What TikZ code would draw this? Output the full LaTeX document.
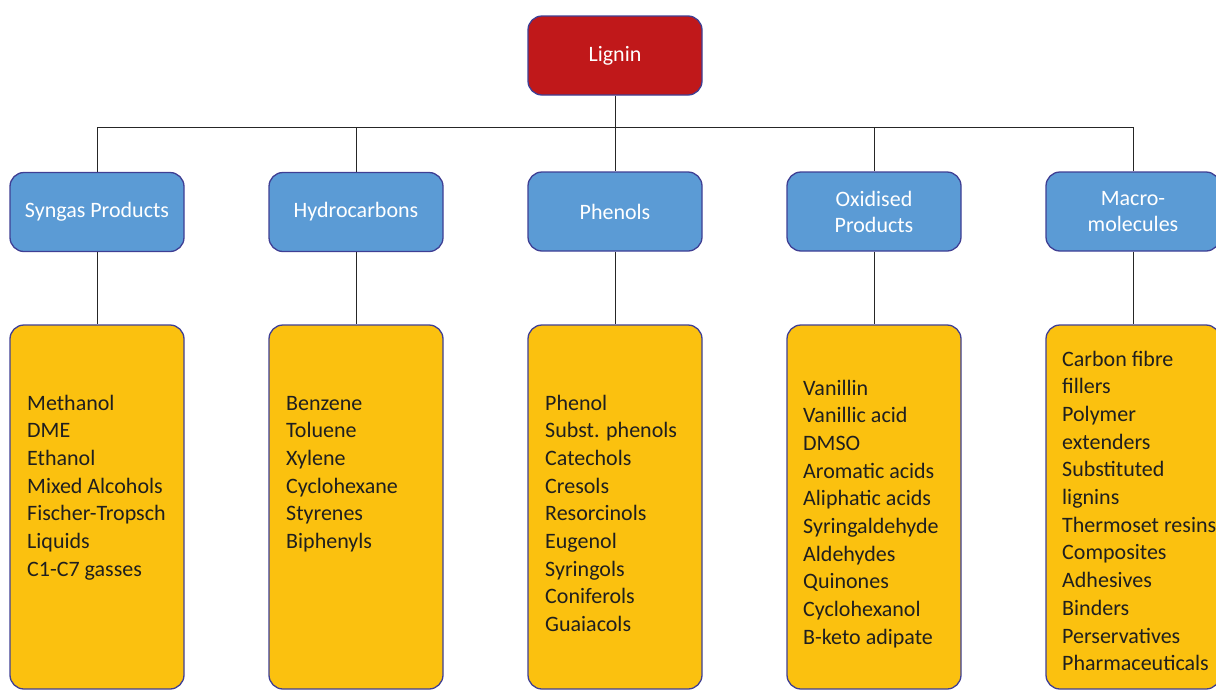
\documentclass[tikz,border=0pt]{standalone}
\usepackage{fontspec}
\setmainfont{Carlito}
\definecolor{lred}{HTML}{C0181A}
\definecolor{lblue}{HTML}{5B9BD5}
\definecolor{lyellow}{HTML}{FBC10F}
\definecolor{lborder}{HTML}{3F3F94}
\definecolor{ltext}{HTML}{1F1F1F}
\begin{document}
\begin{tikzpicture}[x=1pt,y=-1pt,
 box/.style={draw=lborder, line width=1.3pt, rounded corners=14pt, minimum width=174pt, inner sep=0pt},
 topbox/.style={box, fill=lred, minimum height=79pt, text=white, font=\fontsize{22}{26}\selectfont},
 cat/.style={box, fill=lblue, minimum height=79pt, text=white, align=center, font=\fontsize{22}{26}\selectfont},
 listbox/.style={box, fill=lyellow, minimum height=364pt},
 items/.style={anchor=base west, align=left, text=ltext, inner sep=0pt, font=\fontsize{22}{27.7}\selectfont},
 link/.style={draw=black!85, line width=1pt}]
\useasboundingbox (0,0) rectangle (1216,691);
\node[topbox] (lignin) at (615,55.5) {Lignin};
\node[cat] (syn) at (97,212) {Syngas Products};
\node[cat] (hyd) at (356,212) {Hydrocarbons};
\node[cat] (phe) at (615,211.5) {Phenols};
\node[cat] (oxi) at (874,211.5) {Oxidised\\Products};
\node[cat] (mac) at (1133,211.5) {Macro-\\molecules};
\node[listbox] (synl) at (97,507) {};
\node[listbox] (hydl) at (356,507) {};
\node[listbox] (phel) at (615,507) {};
\node[listbox] (oxil) at (874,507) {};
\node[listbox] (macl) at (1133,507) {};
% anchors are the baselines of the last lines
\node[items] (synt) at (27,576.2) {Methanol\\DME\\Ethanol\\Mixed Alcohols\\Fischer-Tropsch\\Liquids\\C1-C7 gasses};
\node[items] (hydt) at (286,548.5) {Benzene\\Toluene\\Xylene\\Cyclohexane\\Styrenes\\Biphenyls};
\node[items] (phet) at (545,631.6) {Phenol\\Subst. phenols\\Catechols\\Cresols\\Resorcinols\\Eugenol\\Syringols\\Coniferols\\Guaiacols};
\node[items] (oxit) at (803,644.3) {Vanillin\\Vanillic acid\\DMSO\\Aromatic acids\\Aliphatic acids\\Syringaldehyde\\Aldehydes\\Quinones\\Cyclohexanol\\B-keto adipate};
\node[items] (mact) at (1062,670.7) {Carbon fibre\\fillers\\Polymer\\extenders\\Substituted\\lignins\\Thermoset resins\\Composites\\Adhesives\\Binders\\Perservatives\\Pharmaceuticals};
\coordinate (bus) at (615,127);
\draw[link] (lignin.south) -- (bus);
\draw[link] (bus) -| (syn.north);
\draw[link] (bus) -| (hyd.north);
\draw[link] (bus) -- (phe.north);
\draw[link] (bus) -| (oxi.north);
\draw[link] (bus) -| (mac.north);
\draw[link] (syn.south) -- (synl.north);
\draw[link] (hyd.south) -- (hydl.north);
\draw[link] (phe.south) -- (phel.north);
\draw[link] (oxi.south) -- (oxil.north);
\draw[link] (mac.south) -- (macl.north);
\end{tikzpicture}
\end{document}
